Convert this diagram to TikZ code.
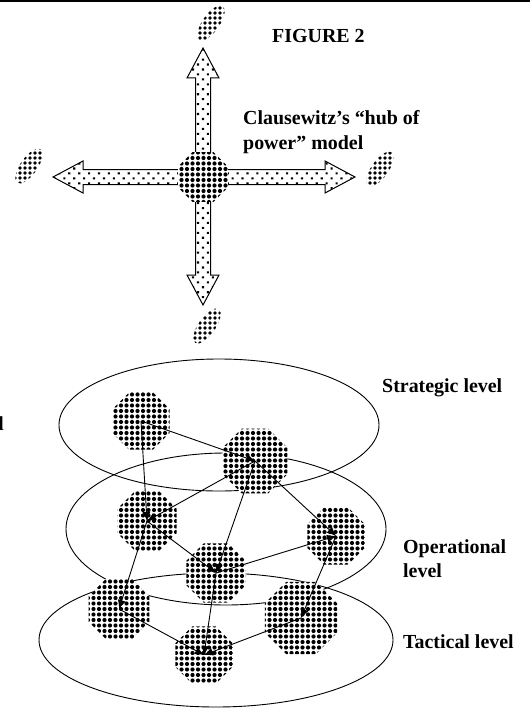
\documentclass[tikz,border=0pt]{standalone}
\usepackage{fontspec}
\setmainfont{Liberation Serif}
\usetikzlibrary{arrows.meta,patterns.meta,shapes.geometric}
\tikzset{
  hub/.style={regular polygon, regular polygon sides=8, inner sep=0pt, minimum size=#1,
    preaction={fill=white}, pattern={Dots[distance=5.5bp,radius=2.1bp]}},
  leaf/.style={ellipse, inner sep=0pt, minimum width=41bp, minimum height=17bp, rotate=55,
    pattern={Dots[distance=5bp,radius=1.9bp]}},
  fatarr/.style={draw, line width=1bp, line join=miter, preaction={fill=white},
    pattern={Dots[distance=7bp,angle=45,radius=1.5bp]}},
  level/.style={draw, line width=0.9bp},
  link/.style={draw, line width=0.9bp, -{Latex[length=9bp,width=8bp]}},
  lab/.style={font=\fontsize{20}{24}\selectfont\bfseries, inner sep=0pt, anchor=base west},
}
% fat arrow out of a hub: hub, angle, length
\newcommand{\fatarrow}[3]{%
  \begin{scope}[shift={(#1)}, rotate=#2]
    \draw[fatarr] (0,-7.5) -- (#3-30,-7.5) -- (#3-30,-16) -- (#3,0)
      -- (#3-30,16) -- (#3-30,7.5) -- (0,7.5) -- cycle;
  \end{scope}}

\begin{document}
\begin{tikzpicture}[x=1bp,y=-1bp]
  \useasboundingbox (0,0) rectangle (530,708);
  \fill (0,0) rectangle (530,2.5);

  % hub of power
  \coordinate (hc) at (203,177);
  \fatarrow{hc}{90}{129}
  \fatarrow{hc}{270}{128}
  \fatarrow{hc}{180}{150}
  \fatarrow{hc}{0}{152}
  \node[hub=54bp] (hub) at (hc) {};
  \node[leaf] (ltop) at (211,23) {};
  \node[leaf] (lleft) at (29,166) {};
  \node[leaf] (lright) at (380,169) {};
  \node[leaf] (lbot) at (207,326) {};

  \node[lab] (fig) at (272,43) {FIGURE 2};
  \node[lab] (cl1) at (243,125) {Clausewitz’s “hub of};
  \node[lab] (cl2) at (243,149) {power” model};

  % levels
  \draw[level] (219,425) ellipse [x radius=160, y radius=66];
  \draw[level] (226,529) ellipse [x radius=160, y radius=76];
  \draw[level] (216,640) ellipse [x radius=177, y radius=67];

  \node[hub=62bp] (s1) at (141,421) {};
  \node[hub=70bp] (s2) at (255,461) {};
  \node[hub=64bp] (o1) at (147,521) {};
  \node[hub=64bp] (o2) at (216,573) {};
  \node[hub=62bp] (o3) at (336,536) {};
  \node[hub=66bp] (t1) at (119,609) {};
  \node[hub=62bp] (t2) at (204,655) {};
  \node[hub=78bp] (t3) at (301,618) {};

  \draw[link] (s1.center) -- (s2.center);
  \draw[link] (s1.center) -- (o1.center);
  \draw[link] (s2.center) -- (o1.center);
  \draw[link] (s2.center) -- (o2.center);
  \draw[link] (s2.center) -- (o3.center);
  \draw[link] (o1.center) -- (o2.center);
  \draw[link] (o1.center) -- (t1.center);
  \draw[link] (o2.center) -- (o3.center);
  \draw[link] (o2.center) -- (t2.center);
  \draw[link] (o3.center) -- (t3.center);
  \draw[link] (t1.center) -- (t2.center);
  \draw[link] (t3.center) -- (t2.center);

  \node[lab] (strat) at (382,392) {Strategic level};
  \node[lab] (oper1) at (403,553) {Operational};
  \node[lab] (oper2) at (403,577) {level};
  \node[lab] (tact) at (403,648) {Tactical level};
  \node[lab, anchor=base east] (cut) at (4,430) {d};
\end{tikzpicture}
\end{document}
